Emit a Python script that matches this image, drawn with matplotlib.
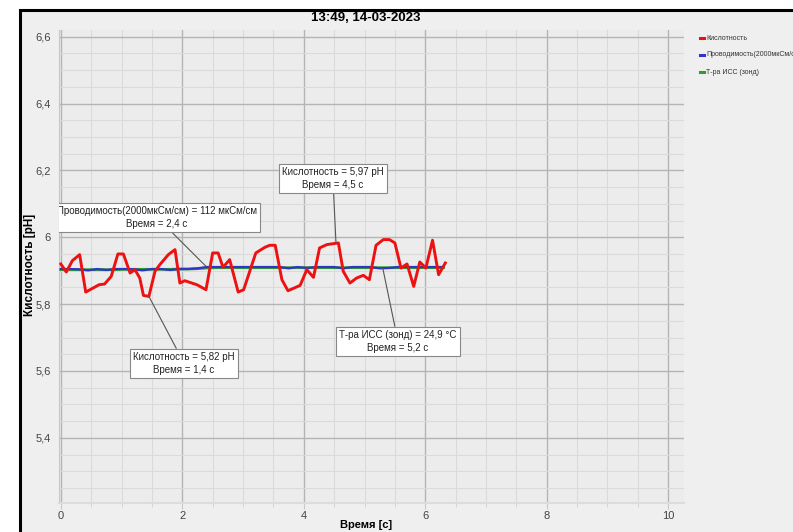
import matplotlib
matplotlib.use("Agg")
import matplotlib.pyplot as plt
from matplotlib.patches import Rectangle
from matplotlib.lines import Line2D
from matplotlib.ticker import MultipleLocator

plt.rcParams['font.family'] = ['Liberation Sans', 'DejaVu Sans']

title = "13:49, 14-03-2023"
series_names = ["Кислотность", "Проводимость(2000мкСм/см)", "Т-ра ИСС (зонд)"]

# acidity (red)
ph_t = [0, 0.09, 0.19, 0.31, 0.41, 0.53, 0.63, 0.72, 0.83, 0.94, 1.03, 1.14, 1.22, 1.30,
        1.36, 1.45, 1.55, 1.63, 1.77, 1.88, 1.96, 2.04, 2.24, 2.39, 2.50, 2.59, 2.67, 2.78,
        2.92, 3.01, 3.11, 3.21, 3.36, 3.44, 3.53, 3.64, 3.74, 3.94, 4.05, 4.16, 4.26, 4.38,
        4.57, 4.65, 4.76, 4.87, 4.98, 5.08, 5.19, 5.31, 5.41, 5.50, 5.60, 5.70, 5.81, 5.91,
        6.01, 6.12, 6.22, 6.33]
ph = [5.92, 5.896, 5.93, 5.948, 5.836, 5.848, 5.858, 5.86, 5.883, 5.95, 5.95, 5.893, 5.903,
      5.878, 5.826, 5.823, 5.898, 5.918, 5.948, 5.963, 5.863, 5.87, 5.858, 5.843, 5.953,
      5.953, 5.91, 5.933, 5.836, 5.843, 5.898, 5.953, 5.97, 5.976, 5.976, 5.873, 5.84,
      5.856, 5.903, 5.88, 5.968, 5.978, 5.983, 5.898, 5.863, 5.878, 5.886, 5.873, 5.976,
      5.993, 5.993, 5.983, 5.908, 5.92, 5.853, 5.926, 5.908, 5.991, 5.888, 5.923]

# conductivity (blue) and temperature (green), scaled onto the pH axis
aux_t = [0, 0.15, 0.3, 0.45, 0.6, 0.75, 0.9, 1.05, 1.2, 1.35, 1.5, 1.65, 1.8, 1.95, 2.1,
         2.25, 2.4, 2.55, 2.7, 2.85, 3.0, 3.15, 3.3, 3.45, 3.6, 3.75, 3.9, 4.05, 4.2, 4.35,
         4.5, 4.65, 4.8, 4.95, 5.1, 5.25, 5.4, 5.55, 5.7, 5.85, 6.0, 6.15, 6.3]
cond = [5.905, 5.905, 5.904, 5.901, 5.905, 5.902, 5.905, 5.905, 5.904, 5.901, 5.905, 5.905,
        5.902, 5.905, 5.905, 5.907, 5.911, 5.911, 5.911, 5.911, 5.911, 5.911, 5.911, 5.911,
        5.911, 5.907, 5.911, 5.908, 5.911, 5.911, 5.911, 5.907, 5.911, 5.911, 5.911, 5.907,
        5.908, 5.911, 5.911, 5.911, 5.911, 5.911, 5.911]
temp = [5.903, 5.903, 5.903, 5.903, 5.903, 5.903, 5.903, 5.904, 5.904, 5.904, 5.904, 5.904,
        5.904, 5.905, 5.905, 5.906, 5.908, 5.909, 5.909, 5.909, 5.909, 5.909, 5.909, 5.909,
        5.909, 5.909, 5.909, 5.909, 5.909, 5.909, 5.909, 5.909, 5.909, 5.909, 5.909, 5.909,
        5.909, 5.909, 5.909, 5.909, 5.909, 5.909, 5.909]

y_ticks = [5.4, 5.6, 5.8, 6.0, 6.2, 6.4, 6.6]
y_tick_labels = ["5,4", "5,6", "5,8", "6", "6,2", "6,4", "6,6"]
x_ticks = [0, 2, 4, 6, 8, 10]

# tooltips: text, point, box centre
tips = [
    ("Кислотность = 5,97 pH\nВремя = 4,5 с", (4.53, 5.983), (4.48, 6.175)),
    ("Проводимость(2000мкСм/см) = 112 мкСм/см\nВремя = 2,4 с", (2.39, 5.913), (1.58, 6.06)),
    ("Кислотность = 5,82 pH\nВремя = 1,4 с", (1.45, 5.823), (2.03, 5.623)),
    ("Т-ра ИСС (зонд) = 24,9 °C\nВремя = 5,2 с", (5.30, 5.908), (5.55, 5.689)),
]

fig = plt.figure(figsize=(7.93, 5.32), dpi=100)
fig.patches.append(Rectangle((20 / 793, -0.05), 1.1, 1 - 10 / 532 + 0.05,
                             transform=fig.transFigure, facecolor="#efefef",
                             edgecolor="black", lw=2.2, zorder=-5))

ax = fig.add_axes([59 / 793, 1 - 503 / 532, 625 / 793, 473 / 532])
ax.set_facecolor("#ececec")
ax.set_xlim(-0.03, 10.26)
ax.set_ylim(5.205, 6.62)

ax.xaxis.set_major_locator(MultipleLocator(2))
ax.xaxis.set_minor_locator(MultipleLocator(0.5))
ax.set_yticks(y_ticks)
ax.set_yticklabels(y_tick_labels)
ax.yaxis.set_minor_locator(MultipleLocator(0.05))
ax.set_xticks(x_ticks)
ax.set_xticklabels([str(v) for v in x_ticks])

ax.grid(which="major", color="#b4b4b4", lw=1.0)
ax.grid(which="minor", color="#dadada", lw=0.8)
ax.set_axisbelow(True)
for s in ["top", "right"]:
    ax.spines[s].set_visible(False)
ax.spines["left"].set_color("#c8c8c8")
ax.spines["bottom"].set_color("#dcdcdc")
ax.spines["bottom"].set_linewidth(1.5)
ax.tick_params(axis="y", which="both", length=0, labelsize=8, labelcolor="#444444", pad=6)
ax.tick_params(axis="x", which="major", length=4, color="#c8c8c8", labelsize=8,
               labelcolor="#444444", pad=2)
ax.tick_params(axis="x", which="minor", length=3, color="#d0d0d0")

ax.plot(aux_t, temp, color="#2ca02c", lw=2.0, zorder=3)
ax.plot(aux_t, cond, color="#3333cc", lw=1.6, zorder=3)
ax.plot(ph_t, ph, color="#ee1111", lw=2.1, zorder=4)

for text, pt, box in tips:
    ax.annotate(text, xy=pt, xytext=box, ha="center", va="center", fontsize=7,
                color="#222222", linespacing=1.4, zorder=10, clip_on=True,
                bbox=dict(boxstyle="square,pad=0.3", fc="white", ec="#888888", lw=0.8),
                arrowprops=dict(arrowstyle="-", color="#555555", lw=0.8,
                                shrinkA=0, shrinkB=0))

fig.text(366 / 793, 1 - 525 / 532, "Время [с]", ha="center", va="center", fontsize=8,
         fontweight="bold")
fig.text(30 / 793, 1 - 265 / 532, "Кислотность [pH]", ha="center", va="center",
         fontsize=8.5, fontweight="bold", rotation=90)
fig.text(366 / 793, 1 - 18 / 532, title, ha="center", va="center", fontsize=9.5,
         fontweight="bold")

# legend at the right
colors = ["#ee1111", "#3333cc", "#2ca02c"]
leg_y = [38, 55, 72]
for name, c, yy in zip(series_names, colors, leg_y):
    fy = 1 - yy / 532
    fig.add_artist(Line2D([700 / 793, 704 / 793], [fy, fy], color=c, lw=2.2,
                          transform=fig.transFigure))
    fig.text(706 / 793, fy, name, fontsize=5, va="center", color="#333333")

fig.savefig("out.png", dpi=100)
